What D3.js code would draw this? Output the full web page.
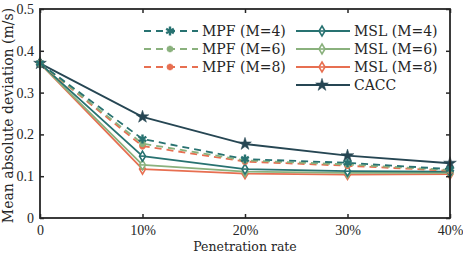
<!DOCTYPE html>
<html>
<head>
<meta charset="utf-8">
<script src="https://cdn.jsdelivr.net/npm/d3@7"></script>
<style>
  body { margin: 0; background: #fff; }
  svg text { font-family: "DejaVu Serif", "Liberation Serif", serif; fill: #262626; }
  svg .tick text { font-family: "Liberation Serif", serif; }
</style>
</head>
<body>
<svg id="chart" width="463" height="258"></svg>
<script>
// penetration rates on the x axis
const rates = [0, 0.1, 0.2, 0.3, 0.4];
const xTicks = ['0', '10%', '20%', '30%', '40%'];
const yTicks = [0, 0.1, 0.2, 0.3, 0.4, 0.5];

// mean absolute deviation (m/s)
const mpf4 = [0.370, 0.189, 0.141, 0.132, 0.117];
const mpf6 = [0.370, 0.178, 0.138, 0.128, 0.115];
const mpf8 = [0.370, 0.172, 0.135, 0.125, 0.113];
const msl4 = [0.370, 0.148, 0.117, 0.112, 0.111];
const msl6 = [0.370, 0.127, 0.111, 0.108, 0.108];
const msl8 = [0.370, 0.117, 0.106, 0.104, 0.105];
const cacc = [0.370, 0.242, 0.177, 0.149, 0.131];

const seriesNames = ['MPF (M=4)', 'MPF (M=6)', 'MPF (M=8)', 'MSL (M=4)', 'MSL (M=6)', 'MSL (M=8)', 'CACC'];

const teal = '#287271', green = '#8ab17d', orange = '#e76f51', navy = '#264653';

const series = [
  {name: seriesNames[0], values: mpf4, color: teal,   dash: '7,5', marker: 'asterisk'},
  {name: seriesNames[1], values: mpf6, color: green,  dash: '7,5', marker: 'cross'},
  {name: seriesNames[2], values: mpf8, color: orange, dash: '7,5', marker: 'cross'},
  {name: seriesNames[3], values: msl4, color: teal,   dash: null,  marker: 'diamond'},
  {name: seriesNames[4], values: msl6, color: green,  dash: null,  marker: 'diamond'},
  {name: seriesNames[5], values: msl8, color: orange, dash: null,  marker: 'diamond'},
  {name: seriesNames[6], values: cacc, color: navy,   dash: null,  marker: 'star'}
];

const margin = {top: 9, right: 13, bottom: 40, left: 40};
const width = 463 - margin.left - margin.right;
const height = 258 - margin.top - margin.bottom;

const svg = d3.select('#chart');
const g = svg.append('g').attr('transform', 'translate(' + margin.left + ',' + margin.top + ')');

const x = d3.scaleLinear().domain([0, 0.4]).range([0, width]);
const y = d3.scaleLinear().domain([0, 0.5]).range([height, 0]);

// draw one marker at (0,0) of the given group
function drawMarker(sel, type, color) {
  if (type === 'asterisk') {
    sel.append('path')
      .attr('d', d3.symbol().type(d3.symbolAsterisk).size(55)())
      .attr('fill', 'none').attr('stroke', color).attr('stroke-width', 2.4);
  } else if (type === 'cross') {
    sel.append('path')
      .attr('d', d3.symbol().type(d3.symbolAsterisk).size(30)())
      .attr('fill', 'none').attr('stroke', color).attr('stroke-width', 2.8);
  } else if (type === 'diamond') {
    sel.append('path')
      .attr('d', 'M0,-5L3,0L0,5L-3,0Z')
      .attr('fill', '#fff').attr('stroke', color).attr('stroke-width', 1.6);
    sel.append('line').attr('x1', -3).attr('x2', 3)
      .attr('stroke', color).attr('stroke-width', 1.6);
  } else if (type === 'star') {
    sel.append('path')
      .attr('d', d3.symbol().type(d3.symbolStar).size(50)())
      .attr('fill', color).attr('stroke', color).attr('stroke-width', 0.5);
  }
}

const line = d3.line().x((d, i) => x(rates[i])).y(d => y(d));

// draw lines back to front so the plot order matches
series.slice().reverse().forEach(s => {
  g.append('path')
    .datum(s.values)
    .attr('d', line)
    .attr('fill', 'none')
    .attr('stroke', s.color)
    .attr('stroke-width', 1.8)
    .attr('stroke-dasharray', s.dash);
});
series.slice().reverse().forEach(s => {
  s.values.forEach((v, i) => {
    const m = g.append('g').attr('transform', 'translate(' + x(rates[i]) + ',' + y(v) + ')');
    drawMarker(m, s.marker, s.color);
  });
});

// axes with inward ticks, mirrored on all four sides
const frame = '#262626';
const xAxis = d3.axisBottom(x).tickValues(rates).tickFormat((d, i) => xTicks[i]).tickSizeInner(-4).tickSizeOuter(0).tickPadding(7);
const yAxis = d3.axisLeft(y).tickValues(yTicks).tickFormat(d => d === 0 ? '0' : d3.format('.1f')(d)).tickSizeInner(-4).tickSizeOuter(0).tickPadding(6);

const gx = g.append('g').attr('transform', 'translate(0,' + height + ')').call(xAxis);
const gy = g.append('g').call(yAxis);
const gxTop = g.append('g').call(d3.axisTop(x).tickValues(rates).tickFormat('').tickSizeInner(-4).tickSizeOuter(0));
const gyRight = g.append('g').attr('transform', 'translate(' + width + ',0)')
  .call(d3.axisRight(y).tickValues(yTicks).tickFormat('').tickSizeInner(-4).tickSizeOuter(0));

[gx, gy, gxTop, gyRight].forEach(a => {
  a.select('.domain').remove();
  a.attr('font-family', null);
  a.selectAll('line').attr('stroke', frame).attr('stroke-width', 1.5);
  a.selectAll('text').style('font-size', '14px').attr('fill', frame);
});

g.append('rect')
  .attr('width', width).attr('height', height)
  .attr('fill', 'none').attr('stroke', frame).attr('stroke-width', 1.8);

// axis labels
svg.append('text')
  .attr('x', margin.left + width / 2).attr('y', 251)
  .attr('text-anchor', 'middle').style('font-size', '12.5px')
  .text('Penetration rate');
svg.append('text')
  .attr('transform', 'translate(13,' + (margin.top + height / 2 + 2) + ') rotate(-90)')
  .attr('text-anchor', 'middle').style('font-size', '14px')
  .text('Mean absolute deviation (m/s)');

// legend, two columns
const legendCols = [{x0: 144, rows: series.slice(0, 3)}, {x0: 296, rows: series.slice(3)}];
legendCols.forEach(col => {
  col.rows.forEach((s, i) => {
    const ly = 31 + i * 18;
    const lg = svg.append('g').attr('transform', 'translate(' + col.x0 + ',' + ly + ')');
    lg.append('line').attr('x1', 0).attr('x2', 54)
      .attr('stroke', s.color).attr('stroke-width', 1.8)
      .attr('stroke-dasharray', s.dash);
    const m = lg.append('g').attr('transform', 'translate(26,0)');
    drawMarker(m, s.marker, s.color);
    lg.append('text').attr('x', 58).attr('dy', '0.35em')
      .style('font-size', '14px').text(s.name);
  });
});
</script>
</body>
</html>
